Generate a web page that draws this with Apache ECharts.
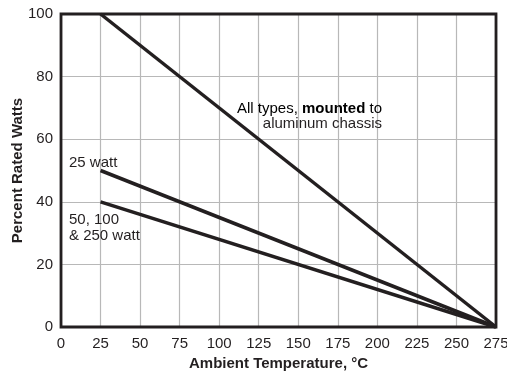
<!DOCTYPE html>
<html>
<head>
<meta charset="utf-8">
<script src="https://cdn.jsdelivr.net/npm/echarts@6/dist/echarts.min.js"></script>
<style>html,body{margin:0;padding:0;background:#fff}#c{width:507px;height:371px}</style>
</head>
<body>
<div id="c"></div>
<script>
const xTicks = [0,25,50,75,100,125,150,175,200,225,250,275];
const yTicks = [0,20,40,60,80,100];
const mountedAll = [[25,100],[275,0]];
const watt25 = [[25,50],[275,0]];
const watt50_100_250 = [[25,40],[275,0]];

const FONT = '"Liberation Sans", Arial, Helvetica, sans-serif';
const INK = '#231f20';
const FS = 15;
const chart = echarts.init(document.getElementById('c'));
const lineSeries = (name, data) => ({
  name, type:'line', data, symbol:'none', silent:true,
  lineStyle:{color:INK, width:3.5}, z:5
});
chart.setOption({
  animation:false,
  grid:{left:61, top:14, right:11, bottom:44, show:true, borderColor:INK, borderWidth:2.8, z:10,
        containLabel:false, outerBoundsMode:'none'},
  xAxis:{
    type:'value', min:xTicks[0], max:xTicks[xTicks.length-1], interval:25,
    name:'Ambient Temperature, °C', nameLocation:'middle', nameGap:29,
    nameTextStyle:{fontFamily:FONT, fontSize:FS, fontWeight:'bold', color:INK},
    axisLine:{show:false}, axisTick:{show:false},
    axisLabel:{fontFamily:FONT, fontSize:FS, color:INK, margin:9},
    splitLine:{show:true, lineStyle:{color:'#b8b8b8', width:1.2}}
  },
  yAxis:{
    type:'value', min:yTicks[0], max:yTicks[yTicks.length-1], interval:20,
    name:'Percent Rated Watts', nameLocation:'middle', nameGap:36, nameMoveOverlap:false,
    nameTextStyle:{fontFamily:FONT, fontSize:FS, fontWeight:'bold', color:INK},
    axisLine:{show:false}, axisTick:{show:false},
    axisLabel:{fontFamily:FONT, fontSize:FS, color:INK, margin:8},
    splitLine:{show:true, lineStyle:{color:'#b8b8b8', width:1.2}}
  },
  series:[
    lineSeries('All types, mounted', mountedAll),
    lineSeries('25 watt', watt25),
    lineSeries('50, 100 & 250 watt', watt50_100_250)
  ],
  graphic:[
    {type:'text', right:125, top:101, z:20, style:{
      text:'{n|All types, }{b|mounted}{n| to}',
      rich:{n:{fontFamily:FONT, fontSize:FS, color:INK},
            b:{fontFamily:FONT, fontSize:FS, fontWeight:'bold', color:INK}}
    }},
    {type:'text', right:125, top:116, z:20, style:{text:'aluminum chassis', font:FS+'px '+FONT, fill:INK}},
    {type:'text', left:69, top:155, z:20, style:{text:'25 watt', font:FS+'px '+FONT, fill:INK}},
    {type:'text', left:69, top:212, z:20, style:{text:'50, 100\n& 250 watt', font:FS+'px '+FONT, fill:INK, lineHeight:16}}
  ]
});
</script>
</body>
</html>
